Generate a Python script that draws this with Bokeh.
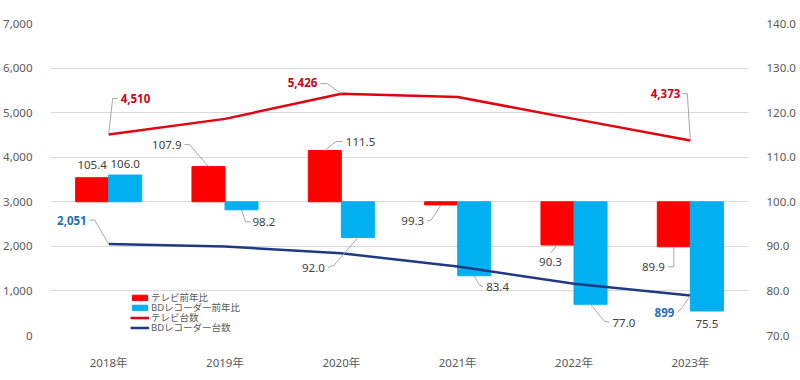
from bokeh.plotting import figure
from bokeh.models import (Range1d, LinearAxis, FixedTicker, Legend, LegendItem,
                          NumeralTickFormatter, ColumnDataSource)
from bokeh.embed import file_html
from bokeh.resources import INLINE
from bokeh.core.properties import value

# ---------------- data ----------------
years = ["2018年", "2019年", "2020年", "2021年", "2022年", "2023年"]
tv_ratio = [105.4, 107.9, 111.5, 99.3, 90.3, 89.9]
bd_ratio = [106.0, 98.2, 92.0, 83.4, 77.0, 75.5]
tv_units = [4510, 4860, 5426, 5350, 4860, 4373]
bd_units = [2051, 1995, 1845, 1547, 1159, 899]
left_ticks = [0, 1000, 2000, 3000, 4000, 5000, 6000, 7000]
right_ticks = [70, 80, 90, 100, 110, 120, 130, 140]
ratio_base = 100
tv_unit_label_idx = [0, 2, 5]
bd_unit_label_idx = [0, 5]
legend_labels = ["テレビ前年比", "BDレコーダー前年比", "テレビ台数", "BDレコーダー台数"]

# ---------------- style / layout ----------------
FW, FH = 698, 312
LEFT_MAX, R_MIN, R_MAX = 7000, 70, 140
PX_X = FW / len(years)
PX_L = FH / LEFT_MAX
PX_R = FH / (R_MAX - R_MIN)
BAR_W = 0.284
RED, CYAN = "#FF0000", "#00B0F0"
TV_LINE, BD_LINE = "#E3000F", "#1F3A80"
TV_LAB, BD_LAB = "#D0001A", "#1E6FB8"
TXT = "#404040"
AX_TXT = "#595959"
LEAD = "#A6A6A6"
FONT = "Noto Sans, Noto Sans CJK JP"
FS = "11.5px"
LEGEND_Y = [31, 21, 11, 1]

# label placements: (label dx, dy in screen px, align, leader path points in px)
tv_ratio_pos = [
    (0, -13, "center", None),
    (-27, -22, "right", [(0, 0), (-19, -22), (-24, -22)]),
    (21, -9, "left", [(0, 0), (11, -9), (18, -9)]),
    (-17, 16, "right", [(0, 0), (-10, 15), (-14, 16)]),
    (-7, 17, "center", [(0, 0), (-7, 8)]),
    (-9, 20, "right", [(0, 0), (0, 20), (-6, 20)]),
]
bd_ratio_pos = [
    (0, -11, "center", None),
    (11, 12, "left", [(0, 0), (4, 12), (9, 12)]),
    (-33, 31, "right", [(0, 0), (-24, 28), (-30, 30)]),
    (12, 11, "left", [(0, 0), (5, 9), (9, 11)]),
    (22, 19, "left", [(0, 0), (14, 17), (19, 18)]),
    (0, 13, "center", None),
]
tv_unit_pos = [
    (12, -36, "left", [(0, 0), (4, -36), (9, -36)]),
    (-24, -11, "right", [(0, 0), (-14, -10), (-21, -10)]),
    (-10, -47, "right", [(0, 0), (-3, -47), (-8, -47)]),
]
bd_unit_pos = [
    (-22, -24, "right", [(0, 0), (-14, -24), (-19, -24)]),
    (-16, 17, "right", [(0, 0), (-8, 12), (-13, 17)]),
]

xs = list(range(len(years)))

p = figure(frame_width=FW, frame_height=FH, output_backend="svg", toolbar_location=None,
           x_range=Range1d(-0.5, len(years) - 0.5), y_range=Range1d(0, LEFT_MAX),
           min_border_left=50, min_border_right=50, min_border_top=23, min_border_bottom=37)
p.extra_y_ranges = {"ratio": Range1d(R_MIN, R_MAX)}
p.outline_line_color = None
p.background_fill_color = "white"
p.border_fill_color = "white"

# axes
p.xaxis.ticker = FixedTicker(ticks=xs)
p.xaxis.major_label_overrides = {i: y for i, y in enumerate(years)}
p.yaxis.ticker = FixedTicker(ticks=left_ticks)
p.yaxis.formatter = NumeralTickFormatter(format="0,0")
raxis = LinearAxis(y_range_name="ratio", ticker=FixedTicker(ticks=right_ticks),
                   formatter=NumeralTickFormatter(format="0.0"))
p.add_layout(raxis, "right")
for ax in [p.xaxis[0], p.yaxis[0], raxis]:
    ax.axis_line_color = None
    ax.major_tick_line_color = None
    ax.minor_tick_line_color = None
    ax.major_label_text_color = AX_TXT
    ax.major_label_text_font = FONT
    ax.major_label_text_font_size = FS
    ax.major_label_standoff = 12
p.xaxis.major_label_standoff = 13
p.xgrid.grid_line_color = None
p.ygrid.grid_line_color = "#D9D9D9"
p.ygrid.grid_line_width = 1

# bars
red_x = [i - BAR_W / 2 for i in xs]
cyan_x = [i + BAR_W / 2 for i in xs]
r_tvb = p.vbar(x=red_x, width=BAR_W, bottom=ratio_base, top=tv_ratio, color=RED, y_range_name="ratio")
r_bdb = p.vbar(x=cyan_x, width=BAR_W, bottom=ratio_base, top=bd_ratio, color=CYAN, y_range_name="ratio")

# lines
r_tvl = p.line(xs, tv_units, line_color=TV_LINE, line_width=2.5)
r_bdl = p.line(xs, bd_units, line_color=BD_LINE, line_width=2.5)


def add_labels(anchors_x, anchors_y, texts, pos, px_y, color, bold, range_name):
    lx, ly, la, mlx, mly = [], [], [], [], []
    for ax_, ay_, (dx, dy, al, path) in zip(anchors_x, anchors_y, pos):
        lx.append(ax_ + dx / PX_X)
        ly.append(ay_ - dy / px_y)
        la.append(al)
        if path:
            mlx.append([ax_ + a / PX_X for a, b in path])
            mly.append([ay_ - b / px_y for a, b in path])
    kw = {} if range_name is None else {"y_range_name": range_name}
    if mlx:
        p.multi_line(mlx, mly, line_color=LEAD, line_width=1, **kw)
    src = ColumnDataSource(dict(x=lx, y=ly, t=texts, a=la))
    p.text(x="x", y="y", text="t", text_align="a", source=src, text_baseline="middle",
           text_color=color, text_font=value(FONT), text_font_size=FS,
           text_font_style="bold" if bold else "normal", **kw)


add_labels(red_x, tv_ratio, [f"{v:.1f}" for v in tv_ratio], tv_ratio_pos, PX_R, TXT, False, "ratio")
add_labels(cyan_x, bd_ratio, [f"{v:.1f}" for v in bd_ratio], bd_ratio_pos, PX_R, TXT, False, "ratio")
add_labels([xs[i] for i in tv_unit_label_idx], [tv_units[i] for i in tv_unit_label_idx],
           [f"{tv_units[i]:,}" for i in tv_unit_label_idx], tv_unit_pos, PX_L, TV_LAB, True, None)
add_labels([xs[i] for i in bd_unit_label_idx], [bd_units[i] for i in bd_unit_label_idx],
           [f"{bd_units[i]:,}" for i in bd_unit_label_idx], bd_unit_pos, PX_L, BD_LAB, True, None)

for lab, rend, ly in zip(legend_labels, [r_tvb, r_bdb, r_tvl, r_bdl], LEGEND_Y):
    lg = Legend(items=[LegendItem(label=lab, renderers=[rend])],
                location=(80, ly), glyph_width=19, glyph_height=7, label_height=10,
                label_standoff=2, spacing=0, padding=0, margin=0,
                background_fill_alpha=0, border_line_color=None,
                label_text_font=FONT, label_text_font_size="9.5px", label_text_color=AX_TXT)
    p.add_layout(lg, "center")

open("out.html", "w").write(file_html(p, INLINE))
